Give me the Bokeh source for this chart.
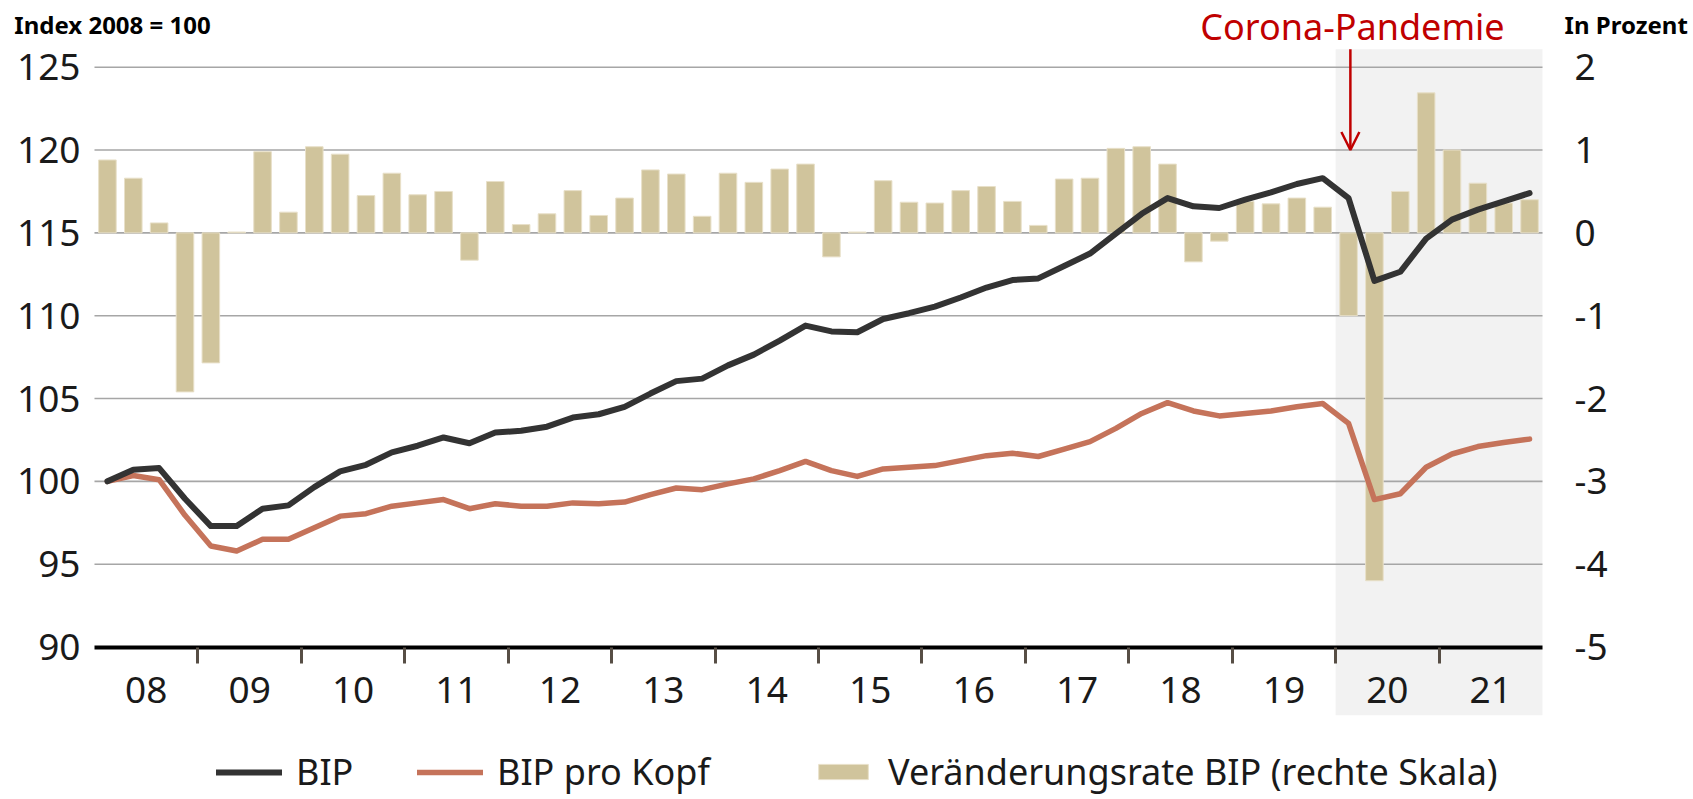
from bokeh.plotting import figure
from bokeh.models import (Range1d, LinearAxis, FixedTicker, BoxAnnotation, Label,
                          Arrow, OpenHead, Legend, LegendItem, ColumnDataSource)
from bokeh.embed import file_html
from bokeh.resources import INLINE

# ---------------- data (quarterly, 2008Q1 .. 2021Q4) ----------------
quarters = [f"{y}Q{q}" for y in range(2008, 2022) for q in range(1, 5)]

bip = [100.0, 100.7, 100.8, 98.95, 97.3, 97.3, 98.35, 98.55, 99.65, 100.6,
       101.0, 101.75, 102.15, 102.65, 102.3, 102.95, 103.05, 103.3, 103.85, 104.05,
       104.5, 105.3, 106.05, 106.2, 107.0, 107.65, 108.5, 109.4, 109.05, 109.0,
       109.8, 110.15, 110.55, 111.1, 111.7, 112.15, 112.25, 113.0, 113.75, 114.95,
       116.15, 117.1, 116.6, 116.5, 117.0, 117.45, 117.95, 118.3, 117.1, 112.1,
       112.65, 114.65, 115.8, 116.4, 116.9, 117.4]

bip_pro_kopf = [100.0, 100.35, 100.1, 97.95, 96.1, 95.8, 96.5, 96.5, 97.2, 97.9,
                98.05, 98.5, 98.7, 98.9, 98.35, 98.65, 98.5, 98.5, 98.7, 98.65,
                98.75, 99.2, 99.6, 99.5, 99.85, 100.15, 100.65, 101.2, 100.65, 100.3,
                100.75, 100.85, 100.95, 101.25, 101.55, 101.7, 101.5, 101.95, 102.4, 103.2,
                104.1, 104.75, 104.25, 103.95, 104.1, 104.25, 104.5, 104.7, 103.5, 98.9,
                99.25, 100.85, 101.65, 102.1, 102.35, 102.55]

veraenderung = [0.88, 0.66, 0.12, -1.92, -1.57, 0.01, 0.98, 0.25, 1.04, 0.95,
                0.45, 0.72, 0.46, 0.50, -0.33, 0.62, 0.10, 0.23, 0.51, 0.21,
                0.42, 0.76, 0.71, 0.20, 0.72, 0.61, 0.77, 0.83, -0.29, 0.01,
                0.63, 0.37, 0.36, 0.51, 0.56, 0.38, 0.09, 0.65, 0.66, 1.02,
                1.04, 0.83, -0.35, -0.10, 0.38, 0.35, 0.42, 0.31, -1.00, -4.20,
                0.50, 1.69, 1.00, 0.60, 0.36, 0.40]

year_labels = ["08", "09", "10", "11", "12", "13", "14", "15", "16", "17",
               "18", "19", "20", "21"]
left_ticks = [90, 95, 100, 105, 110, 115, 120, 125]
right_ticks = [-5, -4, -3, -2, -1, 0, 1, 2]
corona_start = "2020Q1"

# ---------------- derived positions ----------------
n_q = len(quarters)
xpos = [i + 0.5 for i in range(n_q)]
src = ColumnDataSource(dict(x=xpos, q=quarters, bip=bip, kopf=bip_pro_kopf, g=veraenderung))
c_idx = quarters.index(corona_start)

FONT = "Noto Sans"
TXT = "#1a1a1a"
RED = "#C00000"

W, H = 1693, 799
# the frame covers the whole canvas; data area is x 0..56, y 90..~126
x_lo, x_hi = -3.635, 61.840
y_lo, y_hi = 80.795, 129.026
y_top, y_bot = 126.09, 85.88          # extent of plot area (shading)

p = figure(width=W, height=H, x_range=Range1d(x_lo, x_hi), y_range=Range1d(y_lo, y_hi),
           output_backend="svg", toolbar_location=None,
           min_border_left=0, min_border_right=0, min_border_top=0, min_border_bottom=0)
p.extra_y_ranges = {"right": Range1d((y_lo - 115) / 5, (y_hi - 115) / 5)}
p.outline_line_color = None
p.background_fill_color = "white"
p.border_fill_color = "white"
p.xgrid.visible = False
p.ygrid.visible = False

# shading for the pandemic period
p.add_layout(BoxAnnotation(left=c_idx, right=n_q, top=y_top, bottom=y_bot,
                           fill_color="#F2F2F2", fill_alpha=1.0, line_alpha=0, level="image"))

# horizontal grid lines across the data area
gl = [t for t in left_ticks if t > 90]
p.segment(x0=[0] * len(gl), x1=[n_q] * len(gl), y0=gl, y1=gl,
          line_color="#A6A6A6", line_width=1.6)

# bars
bars = p.vbar(x="x", top="g", bottom=0, width=0.68, source=src, y_range_name="right",
              fill_color="#D0C49C", line_color="#E8E0C9", line_width=1)
# lines
l_kopf = p.line("x", "kopf", source=src, line_color="#C5735A", line_width=5.5,
                line_join="round", line_cap="round")
l_bip = p.line("x", "bip", source=src, line_color="#333333", line_width=6,
               line_join="round", line_cap="round")

# left axis, drawn at x = 0
ya = p.yaxis[0]
ya.fixed_location = 0
ya.ticker = FixedTicker(ticks=left_ticks)
ya.axis_line_color = None
ya.major_tick_line_color = None
ya.minor_tick_line_color = None
ya.major_label_text_font = FONT
ya.major_label_text_font_size = "37px"
ya.major_label_text_color = TXT
ya.major_label_standoff = 8

# right axis, drawn at x = 56
ra = LinearAxis(y_range_name="right", ticker=FixedTicker(ticks=right_ticks))
ra.fixed_location = n_q
ra.axis_line_color = None
ra.major_tick_line_color = None
ra.minor_tick_line_color = None
ra.major_label_text_font = FONT
ra.major_label_text_font_size = "37px"
ra.major_label_text_color = TXT
ra.major_label_standoff = 26
ra.major_label_overrides = {t: str(t) for t in right_ticks}
p.add_layout(ra, "right")

# x axis at y = 90, labels centered in each year, ticks at year boundaries
xa = p.xaxis[0]
xa.fixed_location = 90
xa.bounds = (0, n_q)
centers = [4 * k + 2 for k in range(len(year_labels))]
bounds = [4 * k for k in range(1, len(year_labels))]
xa.ticker = FixedTicker(ticks=centers, minor_ticks=bounds)
xa.major_label_overrides = {c: lab for c, lab in zip(centers, year_labels)}
xa.axis_line_color = "black"
xa.axis_line_width = 4
xa.major_tick_in = 0
xa.major_tick_out = 0
xa.major_tick_line_color = None
xa.minor_tick_in = 0
xa.minor_tick_out = 16
xa.minor_tick_line_color = "#574E45"
xa.minor_tick_line_width = 3
xa.major_label_text_font = FONT
xa.major_label_text_font_size = "37px"
xa.major_label_text_color = TXT
xa.major_label_standoff = 14

# titles / annotation
p.add_layout(Label(x=-3.1, y=127.55, text="Index 2008 = 100", text_font=FONT,
                   text_font_size="24px", text_font_style="bold", text_color="black",
                   text_align="left", text_baseline="alphabetic"))
p.add_layout(Label(x=61.62, y=127.55, text="In Prozent", text_font=FONT,
                   text_font_size="24px", text_font_style="bold", text_color="black",
                   text_align="right", text_baseline="alphabetic"))
p.add_layout(Label(x=c_idx + 0.65, y=127.45, text="Corona-Pandemie", text_font=FONT,
                   text_font_size="36px", text_color=RED,
                   text_align="center", text_baseline="alphabetic"))
p.add_layout(Arrow(end=OpenHead(size=18, line_color=RED, line_width=2.5),
                   x_start=c_idx + 0.57, y_start=y_top, x_end=c_idx + 0.57, y_end=120.0,
                   line_color=RED, line_width=2.5))

# legends (three, positioned like the reference)
def mk_legend(label, rend, vx, gw, gh):
    return Legend(items=[LegendItem(label=label, renderers=[rend])],
                  orientation="horizontal", location=(vx, 3),
                  label_text_font=FONT, label_text_font_size="36px", label_text_color=TXT,
                  glyph_width=gw, glyph_height=gh, label_standoff=14, label_height=40,
                  padding=0, margin=0, border_line_alpha=0, background_fill_alpha=0)

p.add_layout(mk_legend("BIP", l_bip, 216, 66, 20))
p.add_layout(mk_legend("BIP pro Kopf", l_kopf, 417, 66, 20))
p.add_layout(mk_legend("Veränderungsrate BIP (rechte Skala)", bars, 812, 62, 19))

open("out.html", "w").write(file_html(p, INLINE))
